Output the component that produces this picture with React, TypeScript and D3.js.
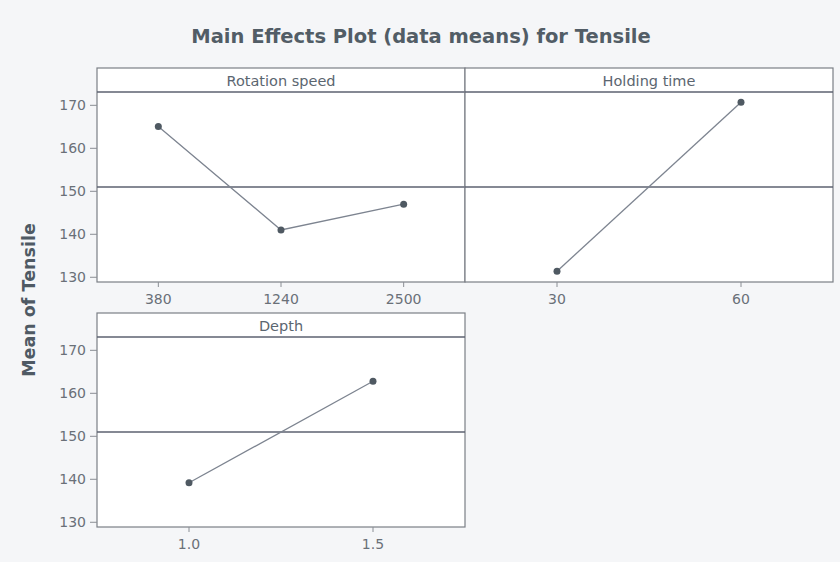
import React from 'react';
import * as d3 from 'd3';

// factor levels and their mean tensile values
const rotationLevels = ['380', '1240', '2500'];
const rotationMeans = [165.1, 141.0, 147.0];
const holdingLevels = ['30', '60'];
const holdingMeans = [131.4, 170.7];
const depthLevels = ['1.0', '1.5'];
const depthMeans = [139.2, 162.8];
const grandMean = 151.0;
const yTicks = [130, 140, 150, 160, 170];

const W = 840;
const H = 562;
const panelW = 368;
const headerH = 24;
const plotH = 190;
const font = '"DejaVu Sans", Arial, sans-serif';

type PanelProps = {
  x0: number;
  y0: number;
  title: string;
  levels: string[];
  means: number[];
  showY: boolean;
};

const Panel = ({ x0, y0, title, levels, means, showY }: PanelProps) => {
  const top = y0 + headerH;
  const bottom = top + plotH;
  const x = d3.scalePoint<string>().domain(levels).range([x0, x0 + panelW]).padding(0.5);
  const y = d3.scaleLinear().domain([128.9, 173.1]).range([bottom, top]);
  const line = d3.line<number>().x((_, i) => x(levels[i]) as number).y(d => y(d));

  return (
    <g>
      <rect x={x0} y={y0} width={panelW} height={headerH + plotH} fill="#fff" stroke="#7b7f86" strokeWidth={1.2} />
      <line x1={x0} x2={x0 + panelW} y1={top} y2={top} stroke="#5d6270" strokeWidth={1.4} />
      <text x={x0 + panelW / 2} y={y0 + 18} textAnchor="middle" fontSize={14.5} fill="#5b6670" fontFamily={font}>{title}</text>
      <line x1={x0} x2={x0 + panelW} y1={y(grandMean)} y2={y(grandMean)} stroke="#5d6270" strokeWidth={1.3} />
      <path d={line(means) || ''} fill="none" stroke="#7d8490" strokeWidth={1.3} />
      {means.map((m, i) => (
        <circle key={i} cx={x(levels[i])} cy={y(m)} r={3.5} fill="#4f5962" />
      ))}
      {levels.map(l => (
        <g key={l}>
          <line x1={x(l)} x2={x(l)} y1={bottom} y2={bottom + 5} stroke="#8a8e94" />
          <text x={x(l)} y={bottom + 22} textAnchor="middle" fontSize={14} fill="#6a7078" fontFamily={font}>{l}</text>
        </g>
      ))}
      {showY && yTicks.map(t => (
        <g key={t}>
          <line x1={x0 - 7} x2={x0} y1={y(t)} y2={y(t)} stroke="#8a8e94" />
          <text x={x0 - 11} y={y(t) + 5} textAnchor="end" fontSize={14} fill="#6a7078" fontFamily={font}>{t}</text>
        </g>
      ))}
    </g>
  );
};

export default function App() {
  return (
    <svg width={W} height={H} style={{ position: 'absolute', left: 0, top: 0 }}>
      <rect width={W} height={H} fill="#f5f6f8" />
      <text x={421} y={43} textAnchor="middle" fontSize={19.5} fontWeight="bold" fill="#525d66" fontFamily={font}>
        Main Effects Plot (data means) for Tensile
      </text>
      <text transform="translate(35,300) rotate(-90)" textAnchor="middle" fontSize={17.5} fontWeight="bold" fill="#4f5a64" fontFamily={font}>
        Mean of Tensile
      </text>
      <Panel x0={97} y0={68} title="Rotation speed" levels={rotationLevels} means={rotationMeans} showY />
      <Panel x0={465} y0={68} title="Holding time" levels={holdingLevels} means={holdingMeans} showY={false} />
      <Panel x0={97} y0={313} title="Depth" levels={depthLevels} means={depthMeans} showY />
    </svg>
  );
}
